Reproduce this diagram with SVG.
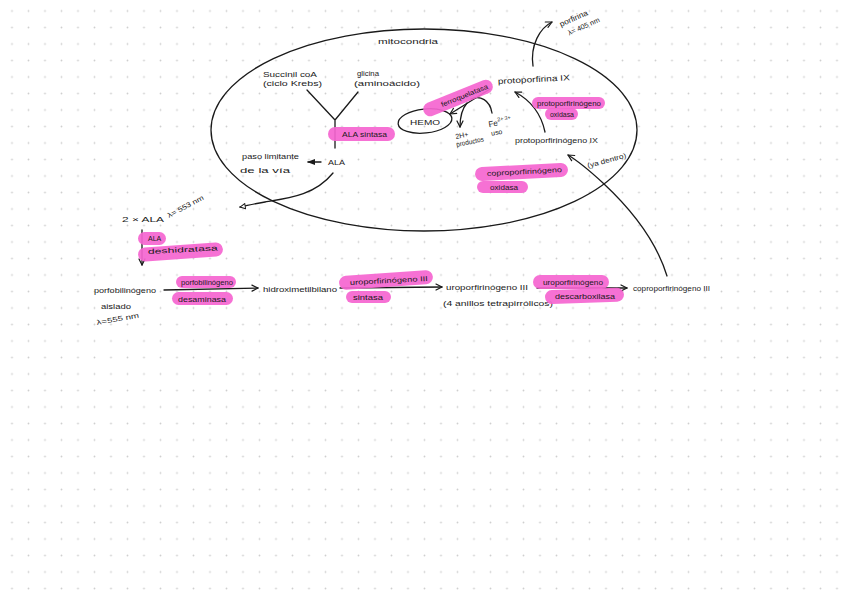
<svg xmlns="http://www.w3.org/2000/svg" width="848" height="599" viewBox="0 0 848 599">
<style>
.t{font-family:"Liberation Sans",Arial,sans-serif;font-size:8px;fill:#1a1a1a}
.s{font-size:7px}
.hl{fill:#f565d0;opacity:0.92}
.ln{fill:none;stroke:#1a1a1a;stroke-width:1.3;stroke-linecap:round;stroke-linejoin:round}
</style>
<defs>
<pattern id="grid" width="16.5" height="16.5" patternUnits="userSpaceOnUse" x="3.75" y="2.75">
<circle cx="8.25" cy="8.25" r="0.9" fill="#cfcfcf"/>
</pattern>
<marker id="open" viewBox="0 0 8 8" refX="7" refY="4" markerWidth="8" markerHeight="8" markerUnits="userSpaceOnUse" orient="auto">
<path d="M1,1 L7,4 L1,7" fill="none" stroke="#1a1a1a" stroke-width="1.2" stroke-linecap="round" stroke-linejoin="round"/>
</marker>
<marker id="fill" viewBox="0 0 8 8" refX="7" refY="4" markerWidth="8" markerHeight="8" markerUnits="userSpaceOnUse" orient="auto">
<path d="M0,1 L8,4 L0,7 Z" fill="#1a1a1a"/>
</marker>
<marker id="tri" viewBox="0 0 8 8" refX="7" refY="4" markerWidth="7" markerHeight="7" markerUnits="userSpaceOnUse" orient="auto">
<path d="M1,1 L7,4 L1,7 Z" fill="#fff" stroke="#1a1a1a" stroke-width="1.1"/>
</marker>
</defs>
<rect width="848" height="599" fill="#ffffff"/>
<rect width="848" height="599" fill="url(#grid)"/>

<g id="mitocondria">
<ellipse cx="424" cy="130" rx="213" ry="101" class="ln"/>
<text class="t" x="378" y="44" textLength="60" lengthAdjust="spacingAndGlyphs">mitocondria</text>
</g>

<g id="connectors">
<path class="ln" d="M307,90 L335,120 M358,92 L335,120 L335,148"/>
<path class="ln" d="M321,162 L308,162" marker-end="url(#fill)"/>
<path class="ln" d="M333,173 C315,195 290,198 265,202 C252,204 246,206 240,207" marker-end="url(#tri)"/>
<path class="ln" d="M533,66 C530,45 540,28 552,22" marker-end="url(#open)"/>
<path class="ln" d="M545,132 C541,113 530,100 515,92" marker-end="url(#open)"/>
<path class="ln" d="M490,89 L450,114" marker-end="url(#open)"/>
<path class="ln" d="M467,103 C461,110 460,118 460,127" marker-end="url(#open)"/>
<path class="ln" d="M471,99 C480,95 490,100 492,113"/>
<path class="ln" d="M667,276 C656,240 632,210 603,183 C590,171 578,161 568,155" marker-end="url(#open)"/>
<path class="ln" d="M142,230 L142,265" marker-end="url(#open)"/>
<path class="ln" d="M164,290 L258,288" marker-end="url(#open)"/>
<path class="ln" d="M340,288 L442,287" marker-end="url(#open)"/>
<path class="ln" d="M537,288 L627,288" marker-end="url(#open)"/>
</g>

<g id="porfirina">
<g transform="translate(561,27) rotate(-24)">
<text class="t" x="0" y="0" textLength="30" lengthAdjust="spacingAndGlyphs">porfirina</text>
<text class="t s" x="4" y="11" textLength="34" lengthAdjust="spacingAndGlyphs">λ= 405 nm</text>
</g>
</g>

<g id="succinil">
<text class="t s" x="263" y="77" textLength="54" lengthAdjust="spacingAndGlyphs">Succinil coA</text>
<text class="t s" x="263" y="86" textLength="59" lengthAdjust="spacingAndGlyphs">(ciclo Krebs)</text>
</g>

<g id="glicina">
<text class="t s" x="357" y="76" textLength="22" lengthAdjust="spacingAndGlyphs">glicina</text>
<text class="t s" x="354" y="86" textLength="66" lengthAdjust="spacingAndGlyphs">(aminoácido)</text>
</g>

<g id="ala-sintasa">
<rect class="hl" x="328" y="127" width="67" height="14" rx="7"/>
<text class="t s" x="342" y="137" textLength="45" lengthAdjust="spacingAndGlyphs">ALA sintasa</text>
</g>

<g id="ala">
<text class="t" x="328" y="165" textLength="17" lengthAdjust="spacingAndGlyphs">ALA</text>
</g>

<g id="paso-limitante">
<text class="t s" x="242" y="159" textLength="57" lengthAdjust="spacingAndGlyphs">paso limitante</text>
<text class="t s" x="240" y="173" textLength="50" lengthAdjust="spacingAndGlyphs">de la vía</text>
</g>

<g id="hemo">
<ellipse cx="425" cy="121" rx="27" ry="12" transform="rotate(-6 425 121)" class="ln"/>
<text class="t" x="410" y="125" font-size="9.5" textLength="30" lengthAdjust="spacingAndGlyphs">HEMO</text>
</g>

<g id="ferroquelatasa">
<g transform="translate(458,98) rotate(-22)">
<rect class="hl" x="-37" y="-7" width="74" height="14" rx="7"/>
<text class="t s" x="-18" y="2.5" textLength="50" lengthAdjust="spacingAndGlyphs">ferroquelatasa</text>
</g>
</g>

<g id="productos">
<g transform="translate(456,139) rotate(-12)">
<text class="t s" x="0" y="0">2H+</text>
<text class="t s" x="-1" y="8" textLength="28" lengthAdjust="spacingAndGlyphs">productos</text>
</g>
</g>

<g id="fe">
<g transform="translate(489,127) rotate(-10)">
<text class="t" x="0" y="0">Fe<tspan font-size="5.5" dy="-4">2+</tspan><tspan font-size="5.5" dx="1">3+</tspan></text>
<text class="t s" x="1" y="9">uso</text>
</g>
</g>

<g id="protoporfirina-ix">
<text class="t" x="498" y="84" transform="rotate(-3 498 84)" textLength="72" lengthAdjust="spacingAndGlyphs">protoporfirina IX</text>
</g>

<g id="protoporfirinogeno-oxidasa">
<rect class="hl" x="532" y="97" width="73" height="12" rx="6"/>
<rect class="hl" x="545" y="108" width="33" height="12" rx="6"/>
<text class="t s" x="537" y="106" textLength="64" lengthAdjust="spacingAndGlyphs">protoporfirinógeno</text>
<text class="t s" x="550" y="117" textLength="24" lengthAdjust="spacingAndGlyphs">oxidasa</text>
</g>

<g id="protoporfirinogeno-ix">
<text class="t" x="515" y="143" textLength="83" lengthAdjust="spacingAndGlyphs">protoporfirinógeno IX</text>
</g>

<g id="ya-dentro">
<text class="t s" x="588" y="168" transform="rotate(-15 588 168)" textLength="40" lengthAdjust="spacingAndGlyphs">(ya dentro)</text>
</g>

<g id="coproporfirinogeno-oxidasa">
<rect class="hl" x="475" y="165" width="93" height="14" rx="7" transform="rotate(-3 521 172)"/>
<rect class="hl" x="477" y="181" width="51" height="12" rx="6"/>
<text class="t s" x="487" y="176" transform="rotate(-3 487 176)" textLength="75" lengthAdjust="spacingAndGlyphs">coproporfirinógeno</text>
<text class="t s" x="490" y="190" textLength="28" lengthAdjust="spacingAndGlyphs">oxidasa</text>
</g>

<g id="dos-ala">
<text class="t" x="122" y="222" textLength="42" lengthAdjust="spacingAndGlyphs">2 × ALA</text>
<text class="t s" x="169" y="218" transform="rotate(-28 169 218)" textLength="40" lengthAdjust="spacingAndGlyphs">λ= 553 nm</text>
</g>

<g id="ala-deshidratasa">
<rect class="hl" x="138" y="232" width="28" height="13" rx="6.5"/>
<rect class="hl" x="138" y="245" width="85" height="14" rx="7" transform="rotate(-4 180 252)"/>
<text class="t s" x="148" y="241">ALA</text>
<text class="t s" x="148" y="254" transform="rotate(-3 148 254)" textLength="70" lengthAdjust="spacingAndGlyphs">deshidratasa</text>
</g>

<g id="porfobilinogeno">
<text class="t" x="94" y="293" textLength="62" lengthAdjust="spacingAndGlyphs">porfobilinógeno</text>
<text class="t s" x="101" y="309" textLength="30" lengthAdjust="spacingAndGlyphs">aislado</text>
<text class="t s" x="97" y="325" transform="rotate(-10 97 325)" textLength="43" lengthAdjust="spacingAndGlyphs">λ=555 nm</text>
</g>

<g id="pbg-desaminasa">
<rect class="hl" x="176" y="276" width="60" height="12" rx="6"/>
<rect class="hl" x="172" y="292" width="61" height="13" rx="6.5"/>
<text class="t s" x="181" y="285" textLength="52" lengthAdjust="spacingAndGlyphs">porfobilinógeno</text>
<text class="t s" x="178" y="302" textLength="48" lengthAdjust="spacingAndGlyphs">desaminasa</text>
</g>

<g id="hidroximetilbilano">
<text class="t" x="263" y="292" textLength="74" lengthAdjust="spacingAndGlyphs">hidroximetilbilano</text>
</g>

<g id="uro-sintasa">
<rect class="hl" x="339" y="273" width="94" height="14" rx="7" transform="rotate(-4 386 280)"/>
<rect class="hl" x="346" y="291" width="45" height="12" rx="6"/>
<text class="t s" x="350" y="285" transform="rotate(-3 350 285)" textLength="78" lengthAdjust="spacingAndGlyphs">uroporfirinógeno III</text>
<text class="t s" x="353" y="300" textLength="30" lengthAdjust="spacingAndGlyphs">sintasa</text>
</g>

<g id="uroporfirinogeno-iii">
<text class="t" x="446" y="290" textLength="82" lengthAdjust="spacingAndGlyphs">uroporfirinógeno III</text>
<text class="t s" x="443" y="306" textLength="110" lengthAdjust="spacingAndGlyphs">(4 anillos tetrapirrólicos)</text>
</g>

<g id="uro-descarboxilasa">
<rect class="hl" x="533" y="275" width="76" height="14" rx="7"/>
<rect class="hl" x="545" y="289" width="79" height="14" rx="7" transform="rotate(-2 584 296)"/>
<text class="t s" x="543" y="285" textLength="60" lengthAdjust="spacingAndGlyphs">uroporfirinógeno</text>
<text class="t s" x="555" y="299" textLength="60" lengthAdjust="spacingAndGlyphs">descarboxilasa</text>
</g>

<g id="coproporfirinogeno-iii">
<text class="t" x="633" y="291" textLength="77" lengthAdjust="spacingAndGlyphs">coproporfirinógeno III</text>
</g>
</svg>
